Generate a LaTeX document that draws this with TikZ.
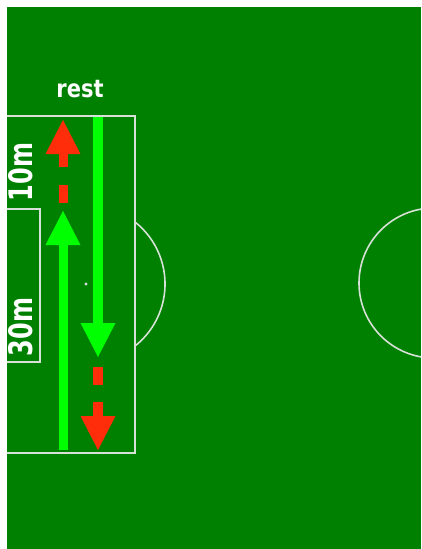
\documentclass[tikz,border=0pt]{standalone}
\usepackage{fontspec}
\setmainfont{DejaVu Sans}
\usetikzlibrary{arrows.meta}
\definecolor{pitch}{RGB}{0,128,0}
\definecolor{chalk}{RGB}{215,225,215}
\definecolor{runGreen}{RGB}{0,255,0}
\definecolor{runRed}{RGB}{255,45,10}
\tikzset{
  chalkline/.style={draw=chalk, line width=1.6pt},
  label/.style={text=white, font=\bfseries, inner sep=0pt},
  runarrow/.style={line width=#1, -{Triangle[length=34pt,width=35pt,line width=0pt]}},
  runseg/.style={line width=#1}
}
\begin{document}
\begin{tikzpicture}[x=1pt,y=-1pt]
  \useasboundingbox (0,0) rectangle (421,549);
  % pitch surface
  \fill[pitch] (7,7) rectangle (421,549);
  \begin{scope}
    \clip (7,7) rectangle (421,549);
    % halfway circle
    \draw[chalkline] (434,283) circle[radius=75];
  \end{scope}
  % penalty area and goal area
  \draw[chalkline] (7,116) -- (135,116) -- (135,453) -- (7,453);
  \draw[chalkline] (7,209) -- (40,209) -- (40,362) -- (7,362);
  % penalty arc and spot
  \draw[chalkline] (135,222) arc[start angle=-51.7, end angle=51.7, radius=79];
  \fill[chalk] (86,284) circle[radius=1.6];

  % run up the left side
  \coordinate (gUpStart) at (63,450);
  \coordinate (gUpTip)   at (63,211);
  \draw[runGreen, runarrow=9pt] (gUpStart) -- (gUpTip);
  \coordinate (rDashA) at (63,203);
  \coordinate (rDashB) at (63,185);
  \draw[runRed, runseg=9pt] (rDashA) -- (rDashB);
  \coordinate (rUpStart) at (63,167);
  \coordinate (rUpTip)   at (63,120);
  \draw[runRed, runarrow=9pt] (rUpStart) -- (rUpTip);

  % run back down the right side
  \coordinate (gDnStart) at (98,117);
  \coordinate (gDnTip)   at (98,357);
  \draw[runGreen, runarrow=10pt] (gDnStart) -- (gDnTip);
  \coordinate (rDashC) at (98,367);
  \coordinate (rDashD) at (98,385);
  \draw[runRed, runseg=10pt] (rDashC) -- (rDashD);
  \coordinate (rDnStart) at (98,402);
  \coordinate (rDnTip)   at (98,450);
  \draw[runRed, runarrow=10pt] (rDnStart) -- (rDnTip);

  % labels
  \node[label, font=\bfseries\fontsize{21}{21}\selectfont, anchor=base] (rest) at (80,97)
    {\scalebox{1}[1.17]{rest}};
  \node[label, font=\bfseries\fontsize{24}{24}\selectfont, rotate=90] (ten) at (21,172)
    {\scalebox{1}[1.35]{10m}};
  \node[label, font=\bfseries\fontsize{24}{24}\selectfont, rotate=90] (thirty) at (21,327)
    {\scalebox{1}[1.35]{30m}};
\end{tikzpicture}
\end{document}
